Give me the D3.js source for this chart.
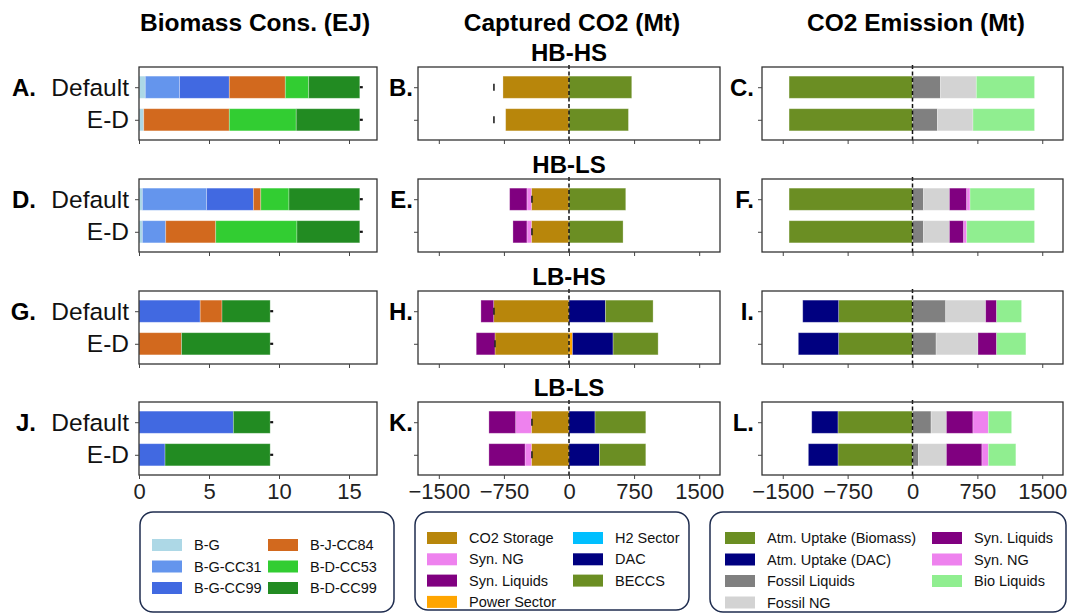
<!DOCTYPE html>
<html>
<head>
<meta charset="utf-8">
<script src="https://cdn.jsdelivr.net/npm/d3@7"></script>
<style>
  html, body { margin: 0; padding: 0; background: #fff; }
  svg { display: block; font-family: "Liberation Sans", Arial, Helvetica, sans-serif; }
</style>
</head>
<body>
<svg id="chart" width="1072" height="615"></svg>
<script>
// ---- Data ----
const scenarios = ["HB-HS", "HB-LS", "LB-HS", "LB-LS"];
const cases = ["Default", "E-D"];
const panelLetters = [["A.", "B.", "C."], ["D.", "E.", "F."], ["G.", "H.", "I."], ["J.", "K.", "L."]];
const columnTitles = ["Biomass Cons. (EJ)", "Captured CO2 (Mt)", "CO2 Emission (Mt)"];

// Biomass consumption (EJ) by pathway
const biomassTypes = ["B-G", "B-G-CC31", "B-G-CC99", "B-J-CC84", "B-D-CC53", "B-D-CC99"];
const biomassColors = ["#add8e6", "#6495ed", "#4169e1", "#d2691e", "#32cd32", "#228b22"];
const biomassDefault = [
  [0.45, 2.45, 3.55, 4.00, 1.67, 3.65],
  [0.24, 4.59, 3.34, 0.53, 2.01, 5.06],
  [0, 0, 4.37, 1.56, 0, 3.44],
  [0, 0, 6.74, 0, 0, 2.63]
];
const biomassED = [
  [0.34, 0, 0, 6.11, 4.78, 4.54],
  [0.24, 1.67, 0, 3.57, 5.80, 4.49],
  [0, 0, 0, 3.04, 0, 6.33],
  [0, 0, 1.86, 0, 0, 7.51]
];

// Captured CO2 (Mt): sinks negative, sources positive
const captureTypes = ["CO2 Storage", "Syn. NG", "Syn. Liquids", "Power Sector", "H2 Sector", "DAC", "BECCS"];
const captureColors = ["#b8860b", "#ee82ee", "#800080", "#ffa500", "#00bfff", "#000080", "#6b8e23"];
const captureDefault = [
  [-761, 0, 0, 0, 0, 0, 723],
  [-434, -51, -199, 0, 0, 0, 654],
  [-868, 0, -147, 0, 0, 420, 549],
  [-434, -181, -308, 0, 0, 300, 585]
];
const captureED = [
  [-730, 0, 0, 0, 0, 0, 685],
  [-434, -51, -161, 0, 0, 0, 623],
  [-853, 0, -216, 40, 0, 468, 519],
  [-434, -73, -416, 0, 0, 351, 534]
];
const captureMarkDefault = [-865, -427, -865, -427];
const captureMarkED = [-865, -427, -853, -427];

// CO2 emission (Mt): uptake negative, emissions positive
const emissionTypes = ["Atm. Uptake (Biomass)", "Atm. Uptake (DAC)", "Fossil Liquids", "Fossil NG", "Syn. Liquids", "Syn. NG", "Bio Liquids"];
const emissionColors = ["#6b8e23", "#000080", "#808080", "#d3d3d3", "#800080", "#ee82ee", "#90ee90"];
const emissionDefault = [
  [-1427, 0, 323, 415, 0, 0, 673],
  [-1427, 0, 127, 300, 200, 38, 746],
  [-854, -415, 384, 462, 127, 0, 288],
  [-862, -303, 215, 177, 307, 178, 269]
];
const emissionED = [
  [-1427, 0, 288, 411, 0, 0, 712],
  [-1427, 0, 127, 300, 165, 35, 784],
  [-854, -466, 273, 484, 216, 0, 338],
  [-862, -342, 69, 323, 411, 74, 318]
];

const biomassTicks = [0, 5, 10, 15];
const co2Ticks = [-1500, -750, 0, 750, 1500];

// ---- Layout ----
const svg = d3.select("#chart");
const rowTops = [67, 179, 291, 402];
const frameH = 73;
const columns = [
  { x0: 139, x1: 377, domain: [0, 17], ticks: biomassTicks, letterX: 36, titleX: 255 },
  { x0: 418, x1: 720, domain: [-1740, 1740], ticks: co2Ticks, letterX: 413, titleX: 572 },
  { x0: 762, x1: 1063, domain: [-1740, 1740], ticks: co2Ticks, letterX: 754, titleX: 916 }
];
const fmt = d => d < 0 ? "\u2212" + Math.abs(d) : String(d);

// Column titles
columnTitles.forEach((t, i) => {
  svg.append("text")
    .attr("x", columns[i].titleX).attr("y", 31)
    .attr("text-anchor", "middle")
    .attr("font-size", 24.5).attr("font-weight", "bold")
    .attr("fill", "#000")
    .text(t);
});

// Stack a signed row into segments: negatives grow leftward, positives rightward
function stackRow(vals) {
  let pos = 0, neg = 0;
  return vals.map((v, k) => {
    if (v >= 0) { const s = { k, a: pos, b: pos + v }; pos += v; return s; }
    const s = { k, a: neg + v, b: neg }; neg += v; return s;
  }).filter(s => s.b - s.a > 0);
}

function drawPanel(r, ci, rows, colors, marks) {
  const c = columns[ci];
  const top = rowTops[r];
  const x = d3.scaleLinear().domain(c.domain).range([c.x0, c.x1]);
  const y = d3.scaleLinear().domain([-0.62, 1.62]).range([top, top + frameH]);
  const barH = y(0.34) - y(-0.34);
  const g = svg.append("g");

  rows.forEach((vals, j) => {
    const segs = stackRow(vals);
    g.selectAll(null).data(segs).enter().append("rect")
      .attr("x", s => x(s.a))
      .attr("width", s => x(s.b) - x(s.a))
      .attr("y", y(j) - barH / 2)
      .attr("height", barH)
      .attr("fill", s => colors[s.k])
      .attr("stroke", "#ffffff").attr("stroke-opacity", 0.35).attr("stroke-width", 0.8);
  });

  // error markers
  if (marks) {
    marks.forEach((m, j) => {
      if (ci === 0) {
        g.append("line")
          .attr("x1", x(m)).attr("x2", x(m) + 3)
          .attr("y1", y(j)).attr("y2", y(j))
          .attr("stroke", "#111").attr("stroke-width", 2.2);
      } else {
        g.append("line")
          .attr("x1", x(m)).attr("x2", x(m))
          .attr("y1", y(j) - 3.5).attr("y2", y(j) + 3.5)
          .attr("stroke", "#222").attr("stroke-width", 1.6);
      }
    });
  }

  // zero reference line
  if (ci > 0) {
    g.append("line")
      .attr("x1", x(0)).attr("x2", x(0))
      .attr("y1", top - 2).attr("y2", top + frameH + 3)
      .attr("stroke", "#111").attr("stroke-width", 1.5)
      .attr("stroke-dasharray", "4,2.5");
  }

  // frame
  g.append("rect")
    .attr("x", c.x0).attr("y", top)
    .attr("width", c.x1 - c.x0).attr("height", frameH)
    .attr("fill", "none").attr("stroke", "#333").attr("stroke-width", 1.3);

  // bottom axis
  const xAxis = d3.axisBottom(x).tickValues(c.ticks).tickSize(4).tickPadding(4)
    .tickFormat(r === 3 ? fmt : "");
  const ax = g.append("g").attr("transform", `translate(0,${top + frameH})`).call(xAxis);
  ax.select(".domain").remove();
  ax.selectAll(".tick line").attr("stroke", "#444").attr("stroke-width", 1);
  ax.selectAll(".tick text")
    .attr("font-size", 22).attr("fill", "#222")
    .attr("font-family", "'Liberation Sans', Arial, sans-serif");

  // left axis with case labels
  const yAxis = d3.axisLeft(y).tickValues([0, 1]).tickSize(4).tickPadding(6)
    .tickFormat(ci === 0 ? (d => cases[d]) : "");
  const ay = g.append("g").attr("transform", `translate(${c.x0},0)`).call(yAxis);
  ay.select(".domain").remove();
  ay.selectAll(".tick line").attr("stroke", "#444").attr("stroke-width", 1);
  ay.selectAll(".tick text")
    .attr("font-size", 24.5).attr("fill", "#111")
    .attr("font-family", "'Liberation Sans', Arial, sans-serif");

  // panel letter
  svg.append("text")
    .attr("x", c.letterX).attr("y", y(0) + 9)
    .attr("text-anchor", "end")
    .attr("font-size", 24).attr("font-weight", "bold").attr("fill", "#000")
    .text(panelLetters[r][ci]);
}

scenarios.forEach((sc, r) => {
  // scenario subtitle above the centre column
  svg.append("text")
    .attr("x", (columns[1].x0 + columns[1].x1) / 2).attr("y", rowTops[r] - 6)
    .attr("text-anchor", "middle")
    .attr("font-size", 24).attr("font-weight", "bold").attr("fill", "#000")
    .text(sc);

  const bTotals = [d3.sum(biomassDefault[r]), d3.sum(biomassED[r])];
  drawPanel(r, 0, [biomassDefault[r], biomassED[r]], biomassColors, bTotals);
  drawPanel(r, 1, [captureDefault[r], captureED[r]], captureColors, [captureMarkDefault[r], captureMarkED[r]]);
  drawPanel(r, 2, [emissionDefault[r], emissionED[r]], emissionColors, null);
});

// ---- Legends ----
function drawLegend(box, names, colors, perCol) {
  const g = svg.append("g");
  g.append("rect")
    .attr("x", box.x).attr("y", box.y).attr("width", box.w).attr("height", box.h)
    .attr("rx", 13).attr("ry", 13)
    .attr("fill", "#fff").attr("stroke", "#1f2d4f").attr("stroke-width", 1.5);
  names.forEach((n, i) => {
    const col = Math.floor(i / perCol), row = i % perCol;
    const sx = box.colX[col];
    const cy = box.rowY + row * box.rowStep;
    g.append("rect")
      .attr("x", sx).attr("y", cy - 6).attr("width", 30).attr("height", 12)
      .attr("fill", colors[i]);
    g.append("text")
      .attr("x", sx + 42).attr("y", cy + 5)
      .attr("font-size", 14.5).attr("fill", "#111")
      .text(n);
  });
}

drawLegend({ x: 140, y: 512, w: 254, h: 100, colX: [152, 268], rowY: 545, rowStep: 21.5 },
  biomassTypes, biomassColors, 3);
drawLegend({ x: 415, y: 512, w: 274, h: 98, colX: [427, 573], rowY: 538, rowStep: 21.3 },
  captureTypes, captureColors, 4);
drawLegend({ x: 710, y: 512, w: 356, h: 100, colX: [725, 932], rowY: 538, rowStep: 21.5 },
  emissionTypes, emissionColors, 4);
</script>
</body>
</html>
